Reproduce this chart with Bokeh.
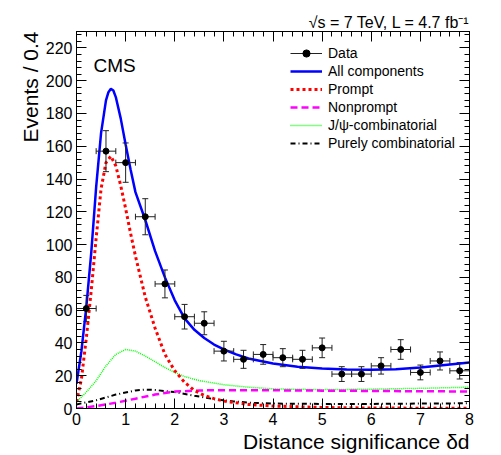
from bokeh.plotting import figure
from bokeh.models import (Range1d, SingleIntervalTicker, LinearAxis, Legend, LegendItem,
                          Label, Whisker, TeeHead, ColumnDataSource, Title, CustomJSTickFormatter)
from bokeh.embed import file_html
from bokeh.resources import INLINE

# ---- data ----
bin_centers = [0.2, 0.6, 1.0, 1.4, 1.8, 2.2, 2.6, 3.0, 3.4, 3.8, 4.2, 4.6, 5.0, 5.4, 5.8, 6.2, 6.6, 7.0, 7.4, 7.8]
counts = [61, 157, 150, 117, 76, 56, 52, 35, 30, 33, 31, 30, 37, 21, 21, 26, 36, 22, 29, 23]
count_errors = [8, 12.5, 12, 11, 8.5, 7.5, 7, 6, 5.5, 6, 5.5, 5.5, 6, 4.5, 4.5, 5, 6, 4.5, 5.5, 5]
bin_half_width = 0.2

all_x = [0, 0.1, 0.2, 0.3, 0.4, 0.5, 0.6, 0.65, 0.7, 0.75, 0.8, 0.9, 1.0, 1.1, 1.2, 1.4, 1.6, 1.8,
         2.0, 2.2, 2.4, 2.6, 2.8, 3.0, 3.25, 3.5, 4.0, 4.5, 5.0, 5.5, 6.0, 6.5, 7.0, 7.5, 8.0]
all_y = [15, 35, 62, 95, 135, 168, 188, 193, 195, 194, 190, 177, 161, 146, 132, 115, 96, 80,
         66, 55, 48, 43, 39, 36, 33, 30.5, 27.5, 25.5, 24.4, 23.8, 23.6, 24, 25, 26.5, 28]

prompt_x = [0, 0.1, 0.2, 0.3, 0.4, 0.5, 0.6, 0.7, 0.8, 0.9, 1.0, 1.1, 1.2, 1.4, 1.6, 1.8, 2.0,
            2.2, 2.4, 2.6, 2.8, 3.0, 3.5, 4.0, 5.0, 6.0, 7.0, 8.0]
prompt_y = [4, 18, 43, 72, 104, 134, 150, 154, 148, 136, 122, 107, 93, 68, 49, 33, 23,
            16, 11, 8, 6, 4.5, 2.5, 1.5, 0.6, 0.3, 0.2, 0.1]

nonprompt_x = [0, 0.4, 0.8, 1.2, 1.6, 2.0, 2.5, 3.0, 4.0, 5.0, 6.0, 7.0, 8.0]
nonprompt_y = [0, 1.5, 3.5, 6, 8.5, 10.3, 11, 11.2, 11.1, 10.9, 10.7, 10.5, 10.4]

jpsi_x = [0, 0.2, 0.4, 0.6, 0.8, 1.0, 1.2, 1.4, 1.6, 1.8, 2.0, 2.2, 2.5, 3.0, 3.5, 4.0, 5.0, 6.0, 7.0, 8.0]
jpsi_y = [4, 10, 17, 26, 33, 36, 35, 32, 28.5, 25, 22, 19.5, 17, 14.5, 13, 12, 11.5, 11.8, 12.3, 13]

comb_x = [0, 0.4, 0.8, 1.2, 1.4, 1.6, 2.0, 2.4, 2.8, 3.2, 3.6, 4.0, 5.0, 6.0, 7.0, 8.0]
comb_y = [2.5, 5, 8.5, 11, 11.5, 11.3, 10, 7.8, 5.7, 4.3, 3.4, 3, 2.8, 2.8, 3, 3.2]

x_tick_interval = 1
y_tick_interval = 20

FONT = "Liberation Sans"

p = figure(frame_width=393, frame_height=377,
           x_range=Range1d(0, 8), y_range=Range1d(0, 230),
           output_backend="svg", toolbar_location=None,
           min_border_left=76, min_border_right=29, min_border_top=31, min_border_bottom=46,
           x_axis_type=None, y_axis_type=None)
p.grid.visible = False
p.outline_line_color = "black"
p.outline_line_width = 1
p.background_fill_color = "white"
p.border_fill_color = "white"


def style_axis(ax, labels=True, major=10, minor=5):
    ax.axis_line_color = "black"
    ax.major_tick_in = major
    ax.major_tick_out = 0
    ax.minor_tick_in = minor
    ax.minor_tick_out = 0
    ax.major_tick_line_color = "black"
    ax.minor_tick_line_color = "black"
    ax.major_label_text_font = FONT
    ax.major_label_text_font_size = "16px"
    ax.major_label_text_color = "black"
    ax.major_label_standoff = 4
    if not labels:
        ax.formatter = CustomJSTickFormatter(code="return ''")
        ax.major_label_standoff = 0


xt = lambda: SingleIntervalTicker(interval=x_tick_interval, num_minor_ticks=5)
yt = lambda: SingleIntervalTicker(interval=y_tick_interval, num_minor_ticks=5)

xb = LinearAxis(ticker=xt()); style_axis(xb)
yl = LinearAxis(ticker=yt()); style_axis(yl)
xa = LinearAxis(ticker=xt()); style_axis(xa, labels=False)
yr = LinearAxis(ticker=yt()); style_axis(yr, labels=False)
p.add_layout(xb, "below")
p.add_layout(yl, "left")
p.add_layout(xa, "above")
p.add_layout(yr, "right")

# ---- curves ----
r_comb = p.line(comb_x, comb_y, line_color="black", line_width=2, line_dash="5 3 1 3")
r_jpsi = p.line(jpsi_x, jpsi_y, line_color="#00ff00", line_width=1.5, line_dash="1 1")
r_nonp = p.line(nonprompt_x, nonprompt_y, line_color="#ff00ff", line_width=2.5, line_dash="7 4")
r_prompt = p.line(prompt_x, prompt_y, line_color="#ff0000", line_width=3, line_dash="3 3")
r_all = p.line(all_x, all_y, line_color="#0000ff", line_width=2.5)

# ---- data with error bars ----
src = ColumnDataSource(dict(
    x=bin_centers, y=counts,
    xl=[c - bin_half_width for c in bin_centers], xr=[c + bin_half_width for c in bin_centers],
    yl=[c - e for c, e in zip(counts, count_errors)], yu=[c + e for c, e in zip(counts, count_errors)],
))
r_h = p.segment(x0="xl", y0="y", x1="xr", y1="y", source=src, line_color="#222222", line_width=1)
p.segment(x0="x", y0="yl", x1="x", y1="yu", source=src, line_color="#222222", line_width=1)
p.add_layout(Whisker(source=src, base="x", lower="yl", upper="yu", dimension="height", line_alpha=0,
                     lower_head=TeeHead(size=6, line_color="#222222", line_width=1),
                     upper_head=TeeHead(size=6, line_color="#222222", line_width=1)))
p.add_layout(Whisker(source=src, base="y", lower="xl", upper="xr", dimension="width", line_alpha=0,
                     lower_head=TeeHead(size=6, line_color="#222222", line_width=1),
                     upper_head=TeeHead(size=6, line_color="#222222", line_width=1)))
r_pts = p.scatter(x="x", y="y", source=src, size=6, marker="circle", fill_color="black", line_color="black")

legend = Legend(items=[
    LegendItem(label="Data", renderers=[r_h, r_pts]),
    LegendItem(label="All components", renderers=[r_all]),
    LegendItem(label="Prompt", renderers=[r_prompt]),
    LegendItem(label="Nonprompt", renderers=[r_nonp]),
    LegendItem(label="J/ψ-combinatorial", renderers=[r_jpsi]),
    LegendItem(label="Purely combinatorial", renderers=[r_comb]),
], location=(214, 256), padding=0, spacing=0, label_height=18, glyph_height=18, glyph_width=32,
    label_standoff=6, border_line_alpha=0, background_fill_alpha=0,
    label_text_font=FONT, label_text_font_size="14px", label_text_color="black")
p.add_layout(legend)

# ---- texts ----
p.add_layout(Label(x=17, y=343, x_units="screen", y_units="screen", text="CMS",
                   text_font=FONT, text_font_size="19px", text_baseline="alphabetic", text_color="black"))
p.add_layout(Title(text="Events / 0.4", align="right", text_font=FONT, text_font_size="21px",
                   text_font_style="normal", text_color="black", standoff=2), "left")
p.add_layout(Title(text="Distance significance δd", align="right", text_font=FONT, text_font_size="21px",
                   text_font_style="normal", text_color="black", standoff=0), "below")
p.add_layout(Title(text="√s = 7 TeV, L = 4.7 fb⁻¹", align="right", text_font=FONT, text_font_size="16px",
                   text_font_style="normal", text_color="black", standoff=2), "above")

open("out.html", "w").write(file_html(p, INLINE))
